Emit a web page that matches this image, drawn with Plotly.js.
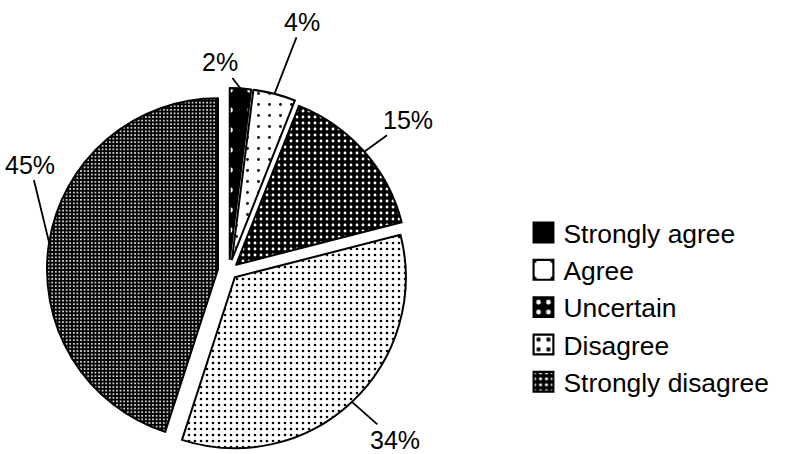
<!DOCTYPE html>
<html>
<head>
<meta charset="utf-8">
<script src="https://cdn.plot.ly/plotly-3.0.1.min.js"></script>
<style>html,body{margin:0;padding:0;background:#fff;}#chart{width:798px;height:454px;}</style>
</head>
<body>
<div id="chart"></div>
<script>
// ---- data ----
const categories = ['Strongly agree', 'Agree', 'Uncertain', 'Disagree', 'Strongly disagree'];
const values = [2, 4, 15, 34, 45];
const percentLabels = ['2%', '4%', '15%', '34%', '45%'];

// ---- styles ----
const pulls = [0.07, 0.07, 0.055, 0.05, 0.065];
const patterns = [
  {shape: '.', bgcolor: '#000', fgcolor: '#fff', size: 20, solidity: 0.06},
  {shape: '.', bgcolor: '#fff', fgcolor: '#000', size: 11, solidity: 0.05},
  {shape: '.', bgcolor: '#000', fgcolor: '#fff', size: 6, solidity: 0.18},
  {shape: '.', bgcolor: '#fff', fgcolor: '#000', size: 6, solidity: 0.15},
  {shape: '.', bgcolor: '#000', fgcolor: '#fff', size: 3.6, solidity: 0.22}
];
const labelOffsets = [[-20, -26], [28, -72], [44, -32], [43, 38], [-19, -78]];

const W = 798, H = 454;
const domX = [0.0576, 0.5163], domY = [0, 0.806];
const FONT = 'Liberation Sans, Arial, Helvetica, sans-serif';

// pie geometry (as Plotly computes it) to anchor leader lines
const boxW = W * (domX[1] - domX[0]), boxH = H * (domY[1] - domY[0]);
const maxPull = Math.max(...pulls);
const r = Math.min(boxW, boxH) / (2 + 2 * maxPull);
const cx = W * (domX[0] + domX[1]) / 2;
const cy = H * (1 - domY[0]) - boxH / 2;
const total = values.reduce((a, b) => a + b, 0);

let cum = 0;
const annotations = values.map((v, i) => {
  const mid = (cum + v / 2) / total * 2 * Math.PI;
  cum += v;
  const d = r * (1 + pulls[i]);
  const px = cx + Math.sin(mid) * d;
  const py = cy - Math.cos(mid) * d;
  return {
    x: px / W, y: 1 - py / H, xref: 'paper', yref: 'paper',
    text: percentLabels[i], showarrow: true, arrowhead: 0, arrowwidth: 1.8,
    arrowcolor: '#000', standoff: 0,
    ax: labelOffsets[i][0], ay: labelOffsets[i][1],
    font: {family: FONT, size: 25, color: '#000'}
  };
});

const trace = {
  type: 'pie',
  labels: categories,
  values: values,
  sort: false,
  direction: 'clockwise',
  rotation: 0,
  pull: pulls,
  textinfo: 'none',
  hoverinfo: 'label+percent',
  domain: {x: domX, y: domY},
  marker: {
    colors: patterns.map(p => p.bgcolor),
    line: {color: '#000', width: 2},
    pattern: {
      shape: patterns.map(p => p.shape),
      bgcolor: patterns.map(p => p.bgcolor),
      fgcolor: patterns.map(p => p.fgcolor),
      size: patterns.map(p => p.size),
      solidity: patterns.map(p => p.solidity),
      fillmode: 'replace'
    }
  }
};

const layout = {
  width: W, height: H,
  margin: {l: 0, r: 0, t: 0, b: 0, autoexpand: false},
  paper_bgcolor: '#fff',
  showlegend: true,
  legend: {
    x: 0.656, y: 0.54, xanchor: 'left', yanchor: 'top',
    font: {family: FONT, size: 26.4, color: '#000'},
    traceorder: 'normal', bgcolor: 'rgba(0,0,0,0)'
  },
  annotations: annotations
};

Plotly.newPlot('chart', [trace], layout, {displayModeBar: false, staticPlot: true}).then(gd => {
  gd.querySelectorAll('.legendpoints path').forEach(p => {
    const t = p.getAttribute('transform') || '';
    p.setAttribute('transform', t + ' scale(1.65)');
    p.style.strokeWidth = '1.3px';
    p.style.stroke = '#000';
  });
});
</script>
</body>
</html>
